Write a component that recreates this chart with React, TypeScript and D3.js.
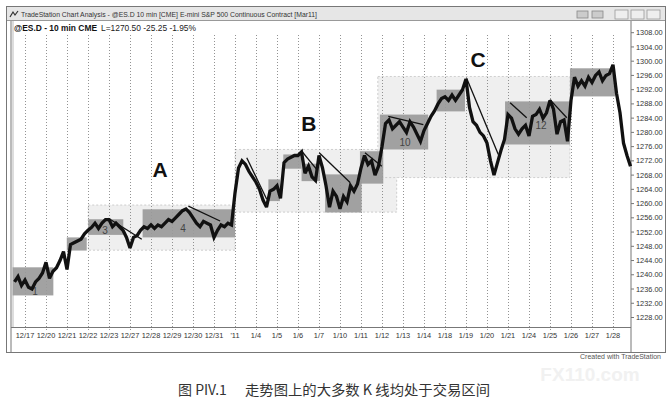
import * as d3 from "d3";

// session start labels on the time axis
const sessions = [
  "12/17", "12/20", "12/21", "12/22", "12/23", "12/27", "12/28", "12/29", "12/30", "12/31",
  "'11", "1/4", "1/5", "1/6", "1/7", "1/10", "1/11", "1/12", "1/13", "1/14",
  "1/18", "1/19", "1/20", "1/21", "1/24", "1/25", "1/26", "1/27", "1/28",
];

const priceTicks = [
  1308, 1304, 1300, 1296, 1292, 1288, 1284, 1280, 1276, 1272, 1268,
  1264, 1260, 1256, 1252, 1248, 1244, 1240, 1236, 1232, 1228,
];

// closes sampled 6 times per session, first sample half a session before 12/17
const firstBar = -0.5;
const barsPerSession = 6;
const closes = [
  1238.0, 1239.5, 1237.0,
  1238.5, 1236.5, 1236.0, 1238.0, 1239.0, 1240.5, // 12/17
  1243.5, 1239.0, 1241.0, 1242.0, 1244.0, 1246.5, // 12/20
  1241.5, 1248.5, 1249.0, 1249.5, 1250.0, 1251.5, // 12/21
  1252.5, 1253.3, 1254.5, 1253.0, 1254.5, 1255.5, // 12/22
  1255.5, 1253.5, 1254.5, 1253.5, 1252.5, 1250.5, // 12/23
  1247.5, 1250.5, 1251.0, 1252.5, 1253.5, 1253.0, // 12/27
  1254.0, 1253.0, 1254.0, 1253.5, 1254.5, 1255.5, // 12/28
  1255.0, 1256.0, 1257.0, 1258.0, 1258.5, 1257.5, // 12/29
  1256.0, 1254.5, 1253.5, 1255.0, 1254.5, 1254.0, // 12/30
  1250.5, 1252.5, 1254.0, 1253.5, 1254.5, 1254.0, // 12/31
  1263.0, 1270.0, 1272.0, 1271.0, 1269.0, 1267.5, // '11
  1266.0, 1264.0, 1261.0, 1259.0, 1263.5, 1264.0, // 1/4
  1265.0, 1261.5, 1271.5, 1272.5, 1273.0, 1273.5, // 1/5
  1273.5, 1274.5, 1268.5, 1270.5, 1267.5, 1266.5, // 1/6
  1273.5, 1270.0, 1265.0, 1259.0, 1263.5, 1262.0, // 1/7
  1258.5, 1262.0, 1260.5, 1265.0, 1263.5, 1265.5, // 1/10
  1270.0, 1273.5, 1271.0, 1272.0, 1268.0, 1270.5, // 1/11
  1276.0, 1282.5, 1283.5, 1281.0, 1282.0, 1283.0, // 1/12
  1281.5, 1280.0, 1283.0, 1281.5, 1279.5, 1277.5, // 1/13
  1280.5, 1282.5, 1284.5, 1286.0, 1288.0, 1289.5, // 1/14
  1290.0, 1289.0, 1290.5, 1289.0, 1290.5, 1292.0, // 1/18
  1295.0, 1287.0, 1283.0, 1282.0, 1280.0, 1279.0, // 1/19
  1277.0, 1272.0, 1268.0, 1271.5, 1275.0, 1278.0, // 1/20
  1285.0, 1284.0, 1281.0, 1279.5, 1281.0, 1282.0, // 1/21
  1279.0, 1284.5, 1285.0, 1286.5, 1284.0, 1285.5, // 1/24
  1289.0, 1286.5, 1279.5, 1283.0, 1283.5, 1277.5, // 1/25
  1289.0, 1295.5, 1293.0, 1294.5, 1293.0, 1295.5, // 1/26
  1294.0, 1296.0, 1297.0, 1294.5, 1296.0, 1296.5, // 1/27
  1299.0, 1291.0, 1285.5, 1277.0, 1273.5, 1270.5, // 1/28
];

// [start session, end session, low, high]
const bigRanges: [number, number, number, number][] = [
  [3.01, 10.0, 1246.9, 1259.6],
  [10.0, 17.7, 1257.6, 1275.2],
  [16.8, 25.95, 1267.3, 1295.7],
];

const smallRanges: [number, number, number, number][] = [
  [-0.59, 1.35, 1234.2, 1242.1],
  [1.99, 2.94, 1246.8, 1250.5],
  [3.01, 4.68, 1251.2, 1255.6],
  [5.6, 10.0, 1250.5, 1258.4],
  [11.59, 12.14, 1260.7, 1266.8],
  [12.3, 13.17, 1269.8, 1273.8],
  [13.17, 14.05, 1266.3, 1271.2],
  [14.29, 16.03, 1257.5, 1268.2],
  [15.95, 17.06, 1265.6, 1274.7],
  [16.9, 19.2, 1275.2, 1285.0],
  [19.6, 20.95, 1285.9, 1292.0],
  [22.86, 25.95, 1276.6, 1288.7],
  [25.95, 28.1, 1290.1, 1298.0],
];

// [t0, p0, t1, p1]
const trendLines: [number, number, number, number][] = [
  [3.97, 1255.9, 5.56, 1250.0],
  [7.78, 1259.3, 9.29, 1255.1],
  [10.56, 1272.9, 11.51, 1261.2],
  [13.18, 1274.7, 13.89, 1269.6],
  [14.01, 1274.3, 15.48, 1265.9],
  [16.19, 1274.3, 16.99, 1270.5],
  [17.3, 1284.5, 18.97, 1282.2],
  [21.03, 1295.2, 22.54, 1273.8],
  [23.1, 1288.3, 23.89, 1284.1],
  [25.0, 1289.2, 25.8, 1284.1],
];

const letterNotes = [
  { text: "A", t: 6.43, p: 1269.1 },
  { text: "B", t: 13.52, p: 1281.9 },
  { text: "C", t: 21.57, p: 1299.8 },
];

const rangeNotes = [
  { text: "1", t: 0.48, p: 1235.2 },
  { text: "3", t: 3.81, p: 1252.2 },
  { text: "4", t: 7.52, p: 1252.8 },
  { text: "10", t: 18.1, p: 1276.9 },
  { text: "12", t: 24.57, p: 1281.6 },
];

const W = 672;
const H = 402;
const plotLeft = 11;
const axisX = 631;
const plotTop = 21;
const plotBottom = 327;
const font = "'Liberation Sans', Arial, sans-serif";

export default function App() {
  const x = d3.scaleLinear().domain([0, 28]).range([25, 613]);
  const y = d3.scaleLinear().domain([1228, 1308]).range([317.5, 32.7]);

  const line = d3
    .line<number>()
    .x((_, i) => x(firstBar + i / barsPerSession))
    .y((d) => y(d));

  return (
    <svg
      width={W}
      height={H}
      style={{ position: "absolute", left: 0, top: 0, background: "#fff" }}
      fontFamily={font}
    >
      {/* window frame */}
      <rect x={6.5} y={6.5} width={659} height={346} fill="#fff" stroke="#777" />
      <rect x={7} y={7} width={658} height={13} fill="#e6e6e6" />
      <line x1={7} x2={665} y1={20.5} y2={20.5} stroke="#999" />
      <path d="M10,17 L13,12 L15,15 L18,11" fill="none" stroke="#333" strokeWidth={1.2} />
      <text x={21} y={17} fontSize={7.6} fill="#333" textLength={296} lengthAdjust="spacingAndGlyphs">
        TradeStation Chart Analysis - @ES.D 10 min [CME] E-mini S&amp;P 500 Continuous Contract [Mar11]
      </text>
      {[577, 592].map((bx) => (
        <rect key={bx} x={bx} y={11} width={11} height={7} fill="#ccc" stroke="#888" strokeWidth={0.8} />
      ))}
      {[615, 631, 647].map((bx) => (
        <rect key={bx} x={bx} y={10} width={13} height={9} fill="#eee" stroke="#999" strokeWidth={0.8} />
      ))}

      {/* pane borders */}
      <line x1={plotLeft} x2={plotLeft} y1={plotTop} y2={352} stroke="#777" />
      <line x1={plotLeft + 2} x2={plotLeft + 2} y1={plotTop} y2={plotBottom} stroke="#bbb" />
      <line x1={axisX} x2={axisX} y1={plotTop} y2={352} stroke="#777" />
      <line x1={plotLeft} x2={axisX} y1={plotBottom + 0.5} y2={plotBottom + 0.5} stroke="#777" />

      {/* header */}
      <text x={14} y={31} fontSize={9} fontWeight="bold" fill="#111" textLength={83} lengthAdjust="spacingAndGlyphs">
        @ES.D - 10 min CME
      </text>
      <text x={101} y={31} fontSize={8.6} fill="#222" textLength={95} lengthAdjust="spacingAndGlyphs">
        L=1270.50 -25.25 -1.95%
      </text>

      {/* big (light) trading ranges */}
      {bigRanges.map(([t0, t1, lo, hi], i) => (
        <rect
          key={"b" + i}
          x={x(t0)}
          y={y(hi)}
          width={x(t1) - x(t0)}
          height={y(lo) - y(hi)}
          fill="#efefef"
          stroke="#c4c4c4"
          strokeDasharray="2,2"
          strokeWidth={0.8}
        />
      ))}

      {/* session separators */}
      {sessions.map((s, i) => (
        <line
          key={"g" + s}
          x1={x(i) + 0.5}
          x2={x(i) + 0.5}
          y1={35}
          y2={plotBottom + 3}
          stroke="#777"
          strokeWidth={0.8}
          strokeDasharray="1,2"
        />
      ))}

      {/* small (dark) trading ranges */}
      {smallRanges.map(([t0, t1, lo, hi], i) => (
        <rect
          key={"s" + i}
          x={x(t0)}
          y={y(hi)}
          width={x(t1) - x(t0)}
          height={y(lo) - y(hi)}
          fill="#9a9a9a"
          fillOpacity={0.92}
        />
      ))}

      {rangeNotes.map((n) => (
        <text
          key={"n" + n.text}
          x={x(n.t)}
          y={y(n.p)}
          fontSize={10}
          fill="#444"
          textAnchor="middle"
          dominantBaseline="middle"
        >
          {n.text}
        </text>
      ))}

      {/* price */}
      <path d={line(closes) ?? ""} fill="none" stroke="#111" strokeWidth={3.3} strokeLinejoin="miter" strokeMiterlimit={3} />

      {trendLines.map(([t0, p0, t1, p1], i) => (
        <line key={"t" + i} x1={x(t0)} y1={y(p0)} x2={x(t1)} y2={y(p1)} stroke="#111" strokeWidth={1.3} />
      ))}

      {letterNotes.map((n) => (
        <text
          key={n.text}
          x={x(n.t)}
          y={y(n.p)}
          fontSize={21}
          fontWeight="bold"
          fill="#111"
          textAnchor="middle"
          dominantBaseline="middle"
        >
          {n.text}
        </text>
      ))}

      {/* price axis */}
      {priceTicks.map((p) => (
        <g key={p} transform={`translate(${axisX},${y(p)})`}>
          <line x1={0} x2={3} stroke="#777" />
          <text x={5} dy="0.35em" fontSize={7.4} fill="#333">
            {p.toFixed(2)}
          </text>
        </g>
      ))}

      {/* time axis */}
      {sessions.map((s, i) => (
        <text key={"l" + s} x={x(i)} y={338} fontSize={7.4} fill="#333" textAnchor="middle">
          {s}
        </text>
      ))}

      <text x={590} y={381} fontSize={19} fontWeight="bold" fill="#f1f1f1" textAnchor="middle">
        FX110.com
      </text>
      <text x={661} y={359} fontSize={7} fill="#555" textAnchor="end">
        Created with TradeStation
      </text>

      <g fontFamily="'Noto Sans CJK SC', sans-serif" fontSize={14} fill="#333">
        <text x={178} y={395}>
          图 PIV.1
        </text>
        <text x={245} y={395} textLength={245} lengthAdjust="spacingAndGlyphs">
          走势图上的大多数 K 线均处于交易区间
        </text>
      </g>
    </svg>
  );
}
